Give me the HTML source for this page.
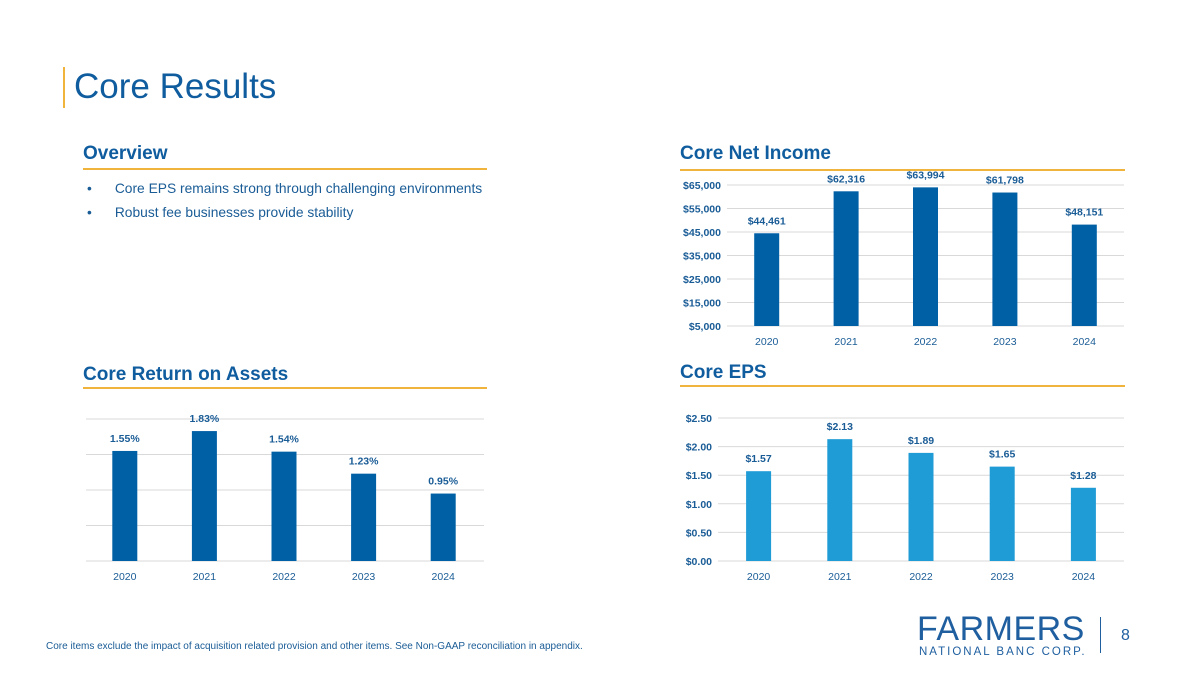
<!DOCTYPE html>
<html><head><meta charset="utf-8"><style>
body{margin:0;width:1200px;height:675px;background:#fff;font-family:"Liberation Sans",sans-serif;position:relative;overflow:hidden;color:#0f5c9e}
.abs{position:absolute}
.h{font-weight:bold;font-size:19px;color:#0f5c9e}
.rule{position:absolute;height:1.5px;background:#f0b43c}
svg text{font-family:"Liberation Sans",sans-serif}
</style></head><body>
<div class="abs" style="left:63px;top:67px;width:2px;height:41px;background:#f0b43c"></div>
<div class="abs" style="left:74px;top:67px;font-size:35px;color:#0f5c9e">Core Results</div>

<div class="abs h" style="left:83px;top:143px">Overview</div>
<div class="rule" style="left:83px;top:168px;width:404px"></div>
<div class="abs" style="left:87px;top:181px;font-size:13.8px;color:#1a5c96">•&nbsp;&nbsp;&nbsp;&nbsp;&nbsp;&nbsp;Core EPS remains strong through challenging environments</div>
<div class="abs" style="left:87px;top:205px;font-size:13.8px;color:#1a5c96">•&nbsp;&nbsp;&nbsp;&nbsp;&nbsp;&nbsp;Robust fee businesses provide stability</div>

<div class="abs h" style="left:680px;top:143px">Core Net Income</div>
<div class="rule" style="left:680px;top:169px;width:445px"></div>
<div class="abs h" style="left:83px;top:364px">Core Return on Assets</div>
<div class="rule" style="left:83px;top:387px;width:404px"></div>
<div class="abs h" style="left:680px;top:362px">Core EPS</div>
<div class="rule" style="left:680px;top:385px;width:445px"></div>

<svg class="abs" style="left:0;top:0" width="1200" height="675" id="charts"></svg>

<div class="abs" style="left:46px;top:641px;font-size:10px;color:#1a5c96">Core items exclude the impact of acquisition related provision and other items. See Non-GAAP reconciliation in appendix.</div>
<div class="abs" style="left:917px;top:611px;font-size:34px;letter-spacing:0.5px;color:#1f5fa0;line-height:36px">FARMERS</div>
<div class="abs" style="left:919px;top:646px;font-size:11.5px;letter-spacing:2px;color:#1f5fa0">NATIONAL BANC CORP.</div>
<div class="abs" style="left:1100px;top:617px;width:1px;height:36px;background:#1f5fa0"></div>
<div class="abs" style="left:1121px;top:627px;font-size:16px;color:#1f5fa0">8</div>

<script>
const years = ["2020","2021","2022","2023","2024"];
const netIncome = [44461,62316,63994,61798,48151];
const netIncomeLabels = ["$44,461","$62,316","$63,994","$61,798","$48,151"];
const netIncomeTicks = [5000,15000,25000,35000,45000,55000,65000];
const roa = [1.55,1.83,1.54,1.23,0.95];
const roaLabels = ["1.55%","1.83%","1.54%","1.23%","0.95%"];
const roaTicks = [0,0.5,1.0,1.5,2.0];
const eps = [1.57,2.13,1.89,1.65,1.28];
const epsLabels = ["$1.57","$2.13","$1.89","$1.65","$1.28"];
const epsTicks = [0,0.5,1.0,1.5,2.0,2.5];

const svg = document.getElementById('charts');
const NS = "http://www.w3.org/2000/svg";
function mk(tag, attrs){const e=document.createElementNS(NS,tag);for(const k in attrs)e.setAttribute(k,attrs[k]);svg.appendChild(e);return e;}

function chart(cfg){
  const y = v => cfg.y0 - (v - cfg.vmin)/(cfg.vmax - cfg.vmin)*(cfg.y0 - cfg.y1);
  const step = (cfg.x1 - cfg.x0)/cfg.cats.length;
  const x = i => cfg.x0 + step*(i+0.5) + cfg.xoff;
  cfg.ticks.forEach((t,i)=>{
    const l=mk('line',{x1:cfg.x0,x2:cfg.x1,y1:y(t),y2:y(t),stroke:'#d9d9d9','stroke-width':1});
    
    
    if(cfg.tickLabels){
      const tx=mk('text',{x:cfg.x0-6,y:y(t)+4,'text-anchor':'end','font-size':10.5,'font-weight':'bold',fill:'#1a5c96'});
      tx.textContent=cfg.tickLabels[i];
      
      
    }
  });
  cfg.vals.forEach((v,i)=>{
    const r=mk('rect',{x:x(i)-12.5,y:y(v),width:25,height:cfg.y0-y(v),fill:cfg.color});
    
    
    const t=mk('text',{x:x(i),y:y(v)-cfg.lblOff,'text-anchor':'middle','font-size':10.5,'font-weight':'bold',fill:'#1a5c96'});
    t.textContent=cfg.labels[i];
    
    
    const c=mk('text',{x:x(i),y:cfg.y0+19,'text-anchor':'middle','font-size':10.5,fill:'#1a5c96'});
    c.textContent=cfg.cats[i];
    
    
  });
}
chart({name:'net-income',cats:years,vals:netIncome,labels:netIncomeLabels,ticks:netIncomeTicks,
  tickLabels:netIncomeTicks.map(t=>'$'+t.toLocaleString('en-US')),
  vmin:5000,vmax:65000,y0:326,y1:185,x0:727,x1:1124,xoff:0,color:'#0060a6',lblOff:9});
chart({name:'roa',cats:years,vals:roa,labels:roaLabels,ticks:roaTicks,tickLabels:null,
  vmin:0,vmax:2.0,y0:561,y1:419,x0:86,x1:484,xoff:-1,color:'#0060a6',lblOff:9});
chart({name:'eps',cats:years,vals:eps,labels:epsLabels,ticks:epsTicks,
  tickLabels:epsTicks.map(t=>'$'+t.toFixed(2)),
  vmin:0,vmax:2.5,y0:561,y1:418,x0:718,x1:1124,xoff:0,color:'#1f9bd6',lblOff:9});
</script>
</body></html>
